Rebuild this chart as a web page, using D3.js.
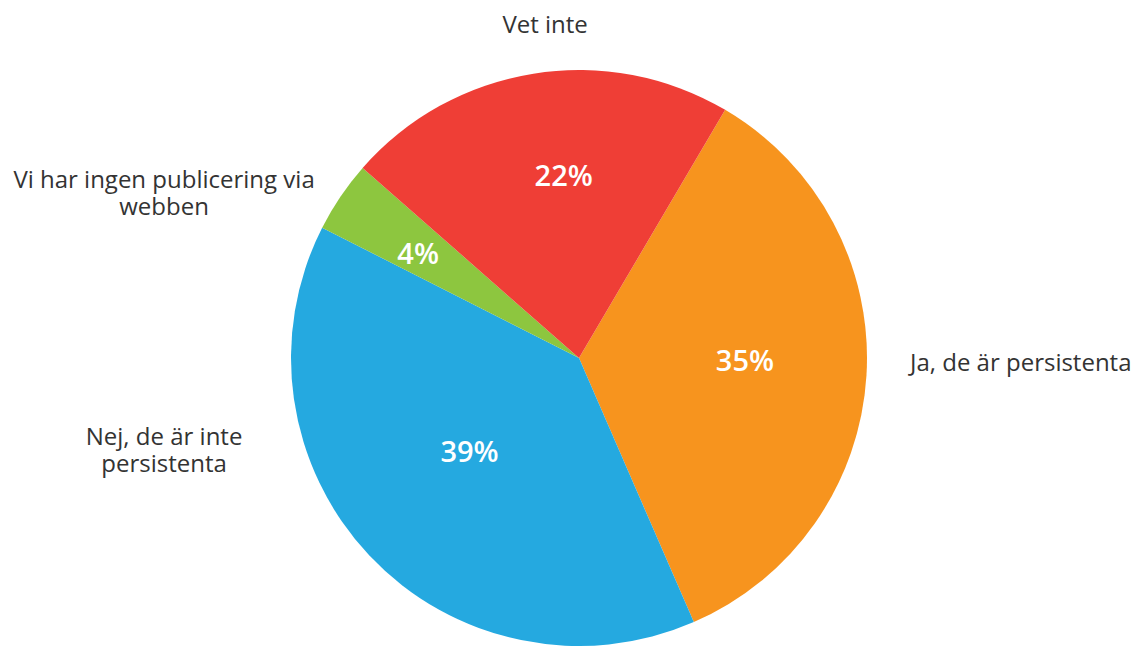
<!DOCTYPE html>
<html>
<head>
<meta charset="utf-8">
<script src="https://cdn.jsdelivr.net/npm/d3@7"></script>
<style>
  html, body { margin: 0; padding: 0; background: #ffffff; }
  svg { display: block; }
</style>
</head>
<body>
<svg id="chart" width="1141" height="646"></svg>
<script>
// ---- data ----
const categories = ["Ja, de är persistenta", "Nej, de är inte persistenta", "Vi har ingen publicering via webben", "Vet inte"];
const values = [35, 39, 4, 22];
const percentLabels = ["35%", "39%", "4%", "22%"];
const colors = ["#F7941E", "#25A9E0", "#8DC63F", "#EF3E36"];
const labelLines = [["Ja, de är persistenta"], ["Nej, de är inte", "persistenta"], ["Vi har ingen publicering via", "webben"], ["Vet inte"]];

// ---- layout ----
const W = 1141, H = 646;
const cx = 579, cy = 358, R = 288;
const startDeg = 30.5;
const deg = Math.PI / 180;
// inner percent label placement (angle deg clockwise from top, distance)
const innerLayout = [
  { a: 90.9, d: 166 },
  { a: 229.5, d: 144 },
  { a: 303.1, d: 192 },
  { a: 355.2, d: 182.6 }
];
// outer label polar placement: angle (deg clockwise from top), distance, anchor
const outerLayout = [
  { a: 90.7, d: 331, anchor: "start" },
  { a: 257.5, d: 425, anchor: "middle" },
  { a: 291.7, d: 446.6, anchor: "middle" },
  { a: 354.2, d: 335.7, anchor: "middle" }
];

const svg = d3.select("#chart");
const g = svg.append("g").attr("transform", `translate(${cx},${cy})`);

const pie = d3.pie().sort(null).value(d => d)
  .startAngle(startDeg * deg).endAngle(startDeg * deg + 2 * Math.PI);
const arcs = pie(values);
const arc = d3.arc().innerRadius(0).outerRadius(R);

g.selectAll("path.slice").data(arcs).enter().append("path")
  .attr("class", "slice")
  .attr("d", arc)
  .attr("fill", (d, i) => colors[i]);

// percent labels
g.selectAll("text.pct").data(arcs).enter().append("text")
  .attr("class", "pct")
  .attr("transform", (d, i) => {
    const L = innerLayout[i];
    return `translate(${Math.sin(L.a * deg) * L.d},${-Math.cos(L.a * deg) * L.d})`;
  })
  .attr("text-anchor", "middle")
  .attr("dy", "0.357em")
  .attr("fill", "#ffffff")
  .style("font-family", "'Open Sans', sans-serif")
  .style("font-weight", "600")
  .style("font-size", "29px")
  .text((d, i) => percentLabels[i]);

// outer category labels
const lineH = 27;
categories.forEach((c, i) => {
  const L = outerLayout[i];
  const x = Math.sin(L.a * deg) * L.d;
  const y = -Math.cos(L.a * deg) * L.d;
  const lines = labelLines[i];
  const t = g.append("text")
    .attr("text-anchor", L.anchor)
    .attr("fill", "#333333")
    .style("font-family", "'Open Sans', sans-serif")
    .style("font-size", "24px");
  lines.forEach((ln, j) => {
    t.append("tspan")
      .attr("x", x)
      .attr("y", y + (j - (lines.length - 1) / 2) * lineH)
      .attr("dy", "0.357em")
      .text(ln);
  });
});
</script>
</body>
</html>
